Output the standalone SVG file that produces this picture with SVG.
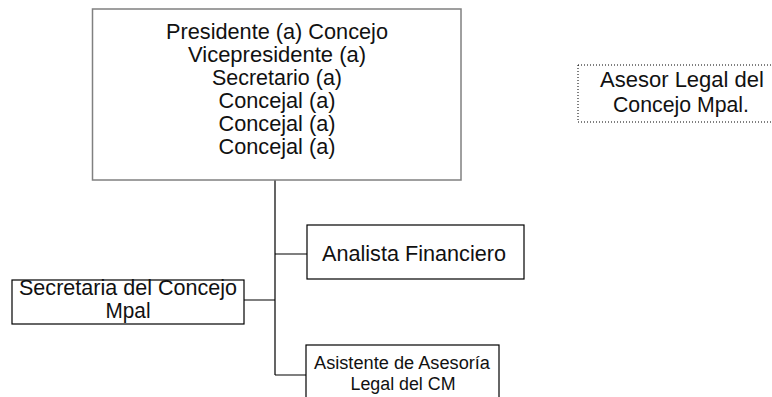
<svg xmlns="http://www.w3.org/2000/svg" width="772" height="397" viewBox="0 0 772 397">
<style>
.t{font-family:"Liberation Sans",Arial,sans-serif;font-size:21.5px;fill:#111;text-anchor:middle}
.s{font-size:18px}
.box{fill:#fff;stroke:#000;stroke-width:1.2}
.conn{stroke:#000;stroke-width:1.2;fill:none}
</style>
<rect width="772" height="397" fill="#fff"/>
<g id="connectors">
<path class="conn" d="M275 180V375M275 254H307M244 300H275M275 375H306"/>
</g>
<g id="concejo">
<rect x="92.5" y="9" width="368.5" height="171" fill="#fff" stroke="#808080" stroke-width="1.5"/>
<text class="t" x="277" y="39" textLength="222" lengthAdjust="spacingAndGlyphs">Presidente (a) Concejo</text>
<text class="t" x="277" y="62" textLength="178" lengthAdjust="spacingAndGlyphs">Vicepresidente (a)</text>
<text class="t" x="277" y="85" textLength="130" lengthAdjust="spacingAndGlyphs">Secretario (a)</text>
<text class="t" x="277" y="108" textLength="117" lengthAdjust="spacingAndGlyphs">Concejal (a)</text>
<text class="t" x="277" y="131" textLength="117" lengthAdjust="spacingAndGlyphs">Concejal (a)</text>
<text class="t" x="277" y="154" textLength="117" lengthAdjust="spacingAndGlyphs">Concejal (a)</text>
</g>
<g id="asesor">
<rect x="578" y="65" width="200" height="57" fill="none" stroke="#000" stroke-width="1" stroke-dasharray="1,2"/>
<text class="t" x="682" y="87" textLength="164" lengthAdjust="spacingAndGlyphs">Asesor Legal del</text>
<text class="t" x="681" y="112" textLength="136" lengthAdjust="spacingAndGlyphs">Concejo Mpal.</text>
</g>
<g id="analista">
<rect class="box" x="307" y="225" width="217" height="54"/>
<text class="t" x="414" y="261" textLength="184" lengthAdjust="spacingAndGlyphs">Analista Financiero</text>
</g>
<g id="secretaria">
<rect class="box" x="12" y="280" width="232" height="44"/>
<text class="t" x="128" y="295" textLength="218" lengthAdjust="spacingAndGlyphs">Secretaria del Concejo</text>
<text class="t" x="128" y="318" textLength="45" lengthAdjust="spacingAndGlyphs">Mpal</text>
</g>
<g id="asistente">
<rect class="box" x="306" y="345" width="193" height="70"/>
<text class="t s" x="402" y="369" textLength="176" lengthAdjust="spacingAndGlyphs">Asistente de Asesoría</text>
<text class="t s" x="403" y="390" textLength="105" lengthAdjust="spacingAndGlyphs">Legal del CM</text>
</g>
</svg>
